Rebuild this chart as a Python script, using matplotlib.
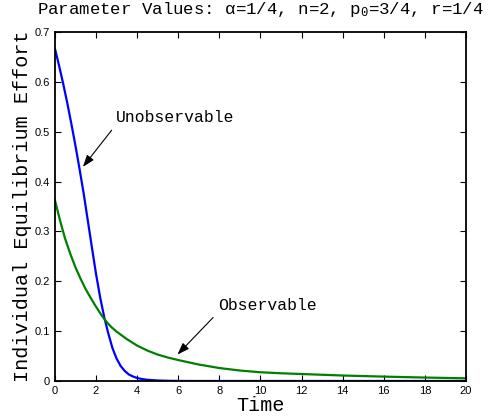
import numpy as np
import matplotlib
matplotlib.use("Agg")
import matplotlib.pyplot as plt

plt.rcParams['mathtext.fontset'] = 'custom'
plt.rcParams['mathtext.rm'] = 'Liberation Mono'
plt.rcParams['mathtext.it'] = 'Liberation Mono'

# effort paths over time
t_unobs = [0, 0.2, 0.4, 0.6, 0.8, 1.0, 1.2, 1.4, 1.6, 1.8, 2.0, 2.2, 2.4, 2.6,
           2.8, 3.0, 3.2, 3.4, 3.6, 3.8, 4.0, 4.25, 4.5, 5.0, 5.5, 6.0, 7.0,
           10.0, 14.0, 20.0]
e_unobs = [0.667, 0.633, 0.597, 0.558, 0.516, 0.472, 0.425, 0.376, 0.322, 0.268,
           0.215, 0.168, 0.128, 0.095, 0.066, 0.045, 0.030, 0.020, 0.013, 0.009,
           0.006, 0.0038, 0.0024, 0.001, 0.0004, 0.0001, 0.0, 0.0, 0.0, 0.0]

t_obs = [0, 0.25, 0.5, 0.75, 1.0, 1.25, 1.5, 1.75, 2.0, 2.25, 2.5, 2.75, 3.0,
         3.5, 4.0, 4.5, 5.0, 5.5, 6.0, 7.0, 8.0, 9.0, 10.0, 11.0, 12.0, 14.0,
         16.0, 18.0, 20.0]
e_obs = [0.363, 0.322, 0.285, 0.255, 0.228, 0.205, 0.184, 0.166, 0.149, 0.133,
         0.119, 0.108, 0.099, 0.084, 0.071, 0.061, 0.053, 0.047, 0.042, 0.033,
         0.026, 0.021, 0.0175, 0.0155, 0.014, 0.011, 0.0088, 0.0069, 0.0054]

xticks = np.arange(0, 21, 2)
yticks = np.arange(0, 0.71, 0.1)

fig = plt.figure(figsize=(4.99, 4.19), dpi=100)
ax = fig.add_axes([0.110, 0.0907, 0.824, 0.833])

ax.plot(t_unobs, e_unobs, color=(0, 0, 1), lw=1.6)
ax.plot(t_obs, e_obs, color=(0, 0.5, 0), lw=1.6)

ax.set_xlim(0, 20)
ax.set_ylim(0, 0.7)
ax.set_xticks(xticks)
ax.set_yticks(yticks)
ax.set_yticklabels(['0'] + ['%.1f' % v for v in yticks[1:]])
ax.tick_params(direction='in', top=True, right=True, length=4, width=0.8,
               labelsize=8)
for lab in ax.get_xticklabels() + ax.get_yticklabels():
    lab.set_family('Liberation Sans')
for s in ax.spines.values():
    s.set_linewidth(1.3)

mono = 'Liberation Mono'
ax.set_xlabel('Time', family=mono, fontsize=14.5, labelpad=0)
ax.set_ylabel('Individual Equilibrium Effort', family=mono, fontsize=14.5,
              labelpad=2)
ax.set_title(r'Parameter Values: α=1/4, n=2, p$_0$=3/4, r=1/4',
             family=mono, fontsize=12.5, pad=13)

arrow = dict(arrowstyle='-|>,head_length=0.45,head_width=0.16', lw=0.8,
             color='black', mutation_scale=16, relpos=(0, 0))
ax.annotate('Unobservable', xy=(1.28, 0.425), xytext=(2.95, 0.528),
            family=mono, fontsize=11.8, va='center', ha='left',
            arrowprops=arrow)
ax.annotate('Observable', xy=(5.87, 0.049), xytext=(7.92, 0.152),
            family=mono, fontsize=11.8, va='center', ha='left',
            arrowprops=arrow)

fig.savefig('out.png', dpi=100)
